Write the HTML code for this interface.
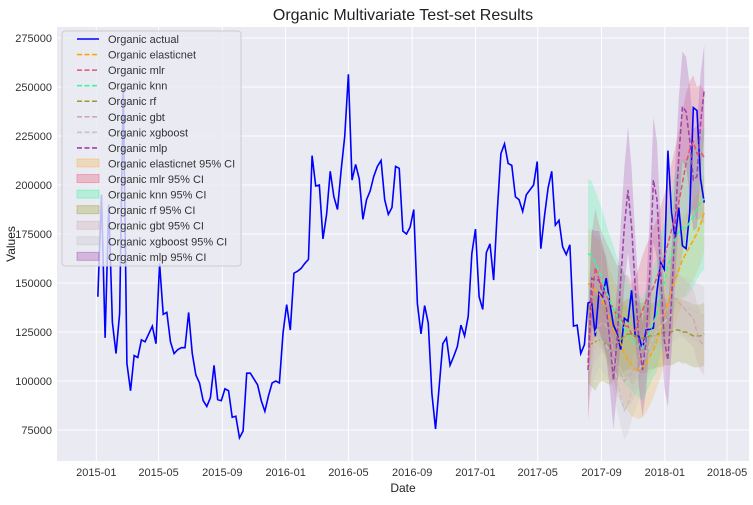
<!DOCTYPE html>
<html><head><meta charset="utf-8"><style>
body{margin:0;background:#fff;font-family:"Liberation Sans",Arial,sans-serif}
svg text{font-family:"Liberation Sans",Arial,sans-serif}
</style></head><body>
<svg id="chart" width="753" height="500" xmlns="http://www.w3.org/2000/svg">
<defs><clipPath id="pc"><rect x="57" y="27" width="692" height="434"/></clipPath></defs>
<rect x="0" y="0" width="753" height="500" fill="#fff"/>
<text x="403" y="20" font-size="16" text-anchor="middle" fill="#222">Organic Multivariate Test-set Results</text>
<rect x="57" y="27" width="692" height="434" fill="#eaeaf2"/>
<g id="grid"></g><g id="bands" clip-path="url(#pc)"></g><g id="lines" clip-path="url(#pc)"></g><g id="axes"></g>
<text x="403" y="492" font-size="12" text-anchor="middle" fill="#222">Date</text>
<text x="15" y="244" font-size="12" text-anchor="middle" fill="#222" transform="rotate(-90 15 244)">Values</text>
<g id="legend"></g>
</svg>
<script>
const actual=[143,195,122,190,130,114,134.5,249,109,95,113,112,121,120,124,128,119,160,134,135,120,114,116,117,117,135,114,103,99,90,87,91.5,108,90.5,90,96,95,81.5,82,71,74.5,104,104,101,98,90,84.5,92.5,99,100,99,124.5,139,126,155,156,157.5,160,162,215,199.5,200,172.5,185,207,194,187.5,207.5,225,256.5,202.5,210.5,203,182.5,192.5,197,204.5,209.5,212.5,192.5,185,188.5,209.5,208.5,176.5,175,178.5,187.5,139.5,124,138.5,129.5,93.5,75.5,97,119,122,108,112.5,117.5,128.5,123,133,165,177.5,143,136.5,165.5,170,151.5,186.5,216,221,211,210,194,192.5,186.5,195,197.5,200,212,167.5,184,198.5,207,179.5,182,168.5,164.5,169.5,128,128.5,114,118.5,139.8,140.5,122.8,145,143,152.5,139.8,128.5,124.5,116,132,130.5,146.3,122.8,122.8,116,126,126.5,127,146,160.5,157,217.5,186,172.5,188.5,169,167.5,186,239.5,238,203,191];
const testStart=135;
const elasticnet=[149.8,148.1,146.4,144.7,141.3,136.2,131.1,126,122.6,119.2,114.1,110.7,108.2,106.4,105.6,106.4,109,112.4,115.8,120.9,126,132.8,139.6,146.4,151.5,156.6,161.7,165.1,168.5,171.9,175.3,180,186];
const mlr=[109,140,158,152,147,144,140,137,133,133,128,128,124,126,131,136,141,144,148,153,158,163,170,177,184,191,201,211,218,222,216,217,214];
const knn=[165,164,160,156,151.5,146,141,137,133,130,127,124,121,119,117.5,116,120,125,130,134,145,150,158,164,172,176,178,178,181,184,188,191,193];
const rf=[119,119,120,121,120,119,118,118,119,121,123,124,124,123,122,122,122,123,123,124,124,125,125,125,126,126,125,125,124,123,123,123,124];
const gbt=[118,120,125,128,130,128,124,115,108,104,100,102,104,108,112,118,122,128,130,132,133,135,138,140,142,140,138,136,134,132,125,120,118];
const xgboost=[105,110,118,122,120,118,115,110,100,92,85,88,95,100,105,110,115,118,122,125,128,130,132,134,136,137,138,138,137,136,135,134,133];
const mlp=[105.6,152.4,151.5,151.5,144.7,138,120.9,100.5,120.9,151.5,178.7,197.5,178.7,148,120.9,105.6,120.9,155,202.6,192.4,155,120.9,110.7,141.3,180.5,214.5,240,237.4,223,202.6,204.3,231.5,248.5];
const wElastic=[28,28,27,27,26,26,26,26,26,26,26,26,26,25,25,25,25,25,24,24,24,23,23,22,22,22,21,21,20,20,20,20,20];
const wMlr=[30,35,30,28,28,27,27,26,26,26,26,26,26,27,27,28,28,29,30,30,31,32,33,34,35,36,36,36,35,34,34,34,34];
const wKnn=[38,38,37,36,35,34,33,32,30,29,28,27,26,26,26,26,26,27,28,29,30,31,32,33,34,34,35,35,36,36,36,36,36];
const wRf=[20,22,25,22,20,20,20,18,18,18,18,18,18,18,18,18,18,17,17,17,17,17,17,17,17,16,16,16,16,16,16,16,16];
const wGbt=[15,15,15,15,15,15,15,15,15,15,15,15,15,15,15,15,15,15,15,15,15,15,15,15,15,15,15,15,15,15,15,15,15];
const wXgb=[15,15,15,15,15,15,15,15,15,15,15,15,15,15,15,15,15,15,15,15,15,15,15,15,15,15,15,15,15,15,15,15,15];
const wMlp=[22,25,25,25,25,25,25,25,26,28,30,32,30,26,24,24,26,30,32,30,26,24,24,26,28,30,28,28,28,26,26,25,23];
const xTicks=["2015-01","2015-05","2015-09","2016-01","2016-05","2016-09","2017-01","2017-05","2017-09","2018-01","2018-05"];
const yTicks=[75000,100000,125000,150000,175000,200000,225000,250000,275000];

const NS="http://www.w3.org/2000/svg";
const d0=Date.UTC(2015,0,1), startWeek=Date.UTC(2015,0,4);
function xDate(ms){return 96.3+(ms-d0)/86400000*0.5187;}
function xWeek(i){return xDate(startWeek+i*7*86400000);}
function y(v){return 430-(v-75)*1.96;}
function mk(tag,attrs,parent){const e=document.createElementNS(NS,tag);for(const k in attrs)e.setAttribute(k,attrs[k]);parent.appendChild(e);return e;}
const grid=document.getElementById('grid'),axes=document.getElementById('axes');
xTicks.forEach(t=>{const [yy,mm]=t.split('-').map(Number);const xx=xDate(Date.UTC(yy,mm-1,1));
 const l=mk('line',{x1:xx,x2:xx,y1:27,y2:461,stroke:'#fff','stroke-width':1},grid);
 
 const tx=mk('text',{x:xx,y:476,'font-size':11,'text-anchor':'middle',fill:'#333'},axes);tx.textContent=t;
 });
yTicks.forEach(t=>{const yy=y(t/1000);
 const l=mk('line',{x1:57,x2:749,y1:yy,y2:yy,stroke:'#fff','stroke-width':1},grid);
 
 const tx=mk('text',{x:52,y:yy+4,'font-size':11,'text-anchor':'end',fill:'#333'},axes);tx.textContent=t;
 });

const models=[
 {n:'elasticnet',v:elasticnet,w:wElastic,c:'#ffa500',f:'#f5b041'},
 {n:'mlr',v:mlr,w:wMlr,c:'#e8506e',f:'#e8506e'},
 {n:'knn',v:knn,w:wKnn,c:'#3cf5a0',f:'#3cf5a0'},
 {n:'rf',v:rf,w:wRf,c:'#9a9a30',f:'#9a9a30'},
 {n:'gbt',v:gbt,w:wGbt,c:'#d0a8b0',f:'#d0a8b0'},
 {n:'xgboost',v:xgboost,w:wXgb,c:'#c4c4c4',f:'#c4c4c4'},
 {n:'mlp',v:mlp,w:wMlp,c:'#a040a8',f:'#a040a8'}];
const bands=document.getElementById('bands'),lines=document.getElementById('lines');
models.forEach(m=>{
 let up=[],lo=[];
 m.v.forEach((v,i)=>{const xx=xWeek(testStart+i);up.push(xx+','+y(v+m.w[i]));lo.unshift(xx+','+y(v-m.w[i]));});
 const p=mk('polygon',{points:up.concat(lo).join(' '),fill:m.f,'fill-opacity':0.25,stroke:'none'},bands);
 
});
const ap=mk('polyline',{points:actual.map((v,i)=>xWeek(i)+','+y(v)).join(' '),fill:'none',stroke:'#0000ff','stroke-width':1.6},lines);

models.forEach(m=>{
 const p=mk('polyline',{points:m.v.map((v,i)=>xWeek(testStart+i)+','+y(v)).join(' '),fill:'none',stroke:m.c,'stroke-width':1.5,'stroke-dasharray':'5,2.5'},lines);
 
});
const lg=document.getElementById('legend');
const box=mk('rect',{x:62,y:31,width:179,height:235,rx:3,fill:'#eaeaf2','fill-opacity':0.8,stroke:'#cccccc'},lg);

const entries=[{t:'Organic actual',c:'#0000ff',k:'solid'}].concat(models.map(m=>({t:'Organic '+m.n,c:m.c,k:'dash'}))).concat(models.map(m=>({t:'Organic '+m.n+' 95% CI',c:m.f,k:'fill'})));
entries.forEach((e,i)=>{const yy=39+i*15.56;
 if(e.k==='fill'){mk('rect',{x:77,y:yy-4.5,width:22,height:8,fill:e.c,'fill-opacity':0.3,stroke:e.c,'stroke-opacity':0.4},lg);}
 else{mk('line',{x1:77,x2:99,y1:yy,y2:yy,stroke:e.c,'stroke-width':1.6,'stroke-dasharray':e.k==='dash'?'5,2.5':'none'},lg);}
 const tx=mk('text',{x:108,y:yy+4,'font-size':11,fill:'#333'},lg);tx.textContent=e.t;
 
});
</script>
</body></html>
